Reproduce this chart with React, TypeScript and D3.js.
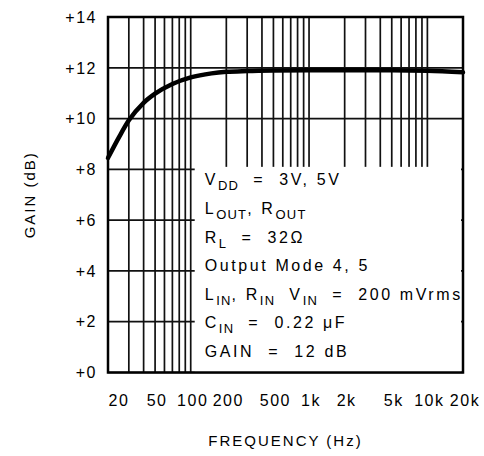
import React from "react";
import * as d3 from "d3";

const freqs = [20, 25, 30, 40, 50, 70, 100, 150, 200, 300, 500, 1000, 5000, 10000, 20000];
const gains = [8.45, 9.3, 9.93, 10.62, 10.98, 11.36, 11.62, 11.78, 11.84, 11.87, 11.89, 11.9, 11.9, 11.88, 11.82];

const yTicks = [0, 2, 4, 6, 8, 10, 12, 14];
const yTickLabels = ["+0", "+2", "+4", "+6", "+8", "+10", "+12", "+14"];
const xLabelFreqs = [20, 50, 100, 200, 500, 1000, 2000, 5000, 10000, 20000];
const xLabels = ["20", "50", "100", "200", "500", "1k", "2k", "5k", "10k", "20k"];
const gridFreqs = [30, 40, 50, 60, 70, 80, 90, 100, 200, 300, 400, 500, 600, 700, 800, 900, 1000, 2000, 3000, 4000, 5000, 6000, 7000, 8000, 9000, 10000];

// annotation lines: segments of [text, isSubscript]
const noteLines: [string, boolean][][] = [
  [["V", false], ["DD", true], ["  =  3V, 5V", false]],
  [["L", false], ["OUT", true], [", R", false], ["OUT", true]],
  [["R", false], ["L", true], ["  =  32Ω", false]],
  [["Output Mode 4, 5", false]],
  [["L", false], ["IN", true], [", R", false], ["IN", true], ["  V", false], ["IN", true], ["  =  200 mVrms", false]],
  [["C", false], ["IN", true], ["  =  0.22 μF", false]],
  [["GAIN  =  12 dB", false]],
];

const W = 484, H = 456;
const left = 108, right = 463, top = 17, bottom = 372.5;
const FONT = "'Liberation Sans', Arial, sans-serif";

export default function App() {
  const x = d3.scaleLog().domain([20, 20000]).range([left, right]);
  const y = d3.scaleLinear().domain([0, 14]).range([bottom, top]);
  const line = d3.line<number>().x((_, i) => x(freqs[i])).y((d) => y(d)).curve(d3.curveMonotoneX);

  const boxX = x(100) + 4;
  const boxY = y(8) - 2.5;
  const textX = boxX + 10;
  const textY0 = y(8) + 16;
  const step = 28.6;
  const ls = 2.6;

  return (
    <svg width={W} height={H} style={{ position: "absolute", left: 0, top: 0, background: "#fff" }}>
      <rect x={0} y={0} width={W} height={H} fill="#fff" />
      {yTicks.map((t) => (
        <line key={"h" + t} x1={left} x2={right} y1={y(t)} y2={y(t)} stroke="#111" strokeWidth={1.7} />
      ))}
      {gridFreqs.map((f) => (
        <line key={"v" + f} x1={x(f)} x2={x(f)} y1={top} y2={bottom} stroke="#111" strokeWidth={1.7} />
      ))}
      <path d={line(gains) || ""} fill="none" stroke="#000" strokeWidth={4.5} strokeLinecap="round" />
      <rect x={boxX} y={boxY} width={right - 2 - boxX} height={bottom - boxY} fill="#fff" />
      <rect x={left} y={top} width={right - left} height={bottom - top} fill="none" stroke="#000" strokeWidth={2.5} />
      {noteLines.map((segs, i) => (
        <text key={"n" + i} x={textX} y={textY0 + i * step} fontFamily={FONT} fontSize={16} letterSpacing={ls} fill="#000" style={{ whiteSpace: "pre" }}>
          {segs.map(([s, sub], j) => (
            <tspan key={j} fontSize={sub ? 13 : 16} dy={sub ? 5 : j > 0 && segs[j - 1][1] ? -5 : 0} letterSpacing={sub ? 1.2 : ls}>
              {s}
            </tspan>
          ))}
        </text>
      ))}
      {yTicks.map((t, i) => (
        <text key={"yl" + t} x={97} y={y(t)} dy="0.36em" textAnchor="end" fontFamily={FONT} fontSize={16} letterSpacing={1.5} fill="#000">
          {yTickLabels[i]}
        </text>
      ))}
      {xLabelFreqs.map((f, i) => (
        <text key={"xl" + f} x={x(f) + (i === 0 ? 11 : 2)} y={406} textAnchor="middle" fontFamily={FONT} fontSize={16} letterSpacing={1.5} fill="#000">
          {xLabels[i]}
        </text>
      ))}
      <text x={(left + right) / 2} y={446} textAnchor="middle" fontFamily={FONT} fontSize={15} letterSpacing={2} fill="#000">
        FREQUENCY (Hz)
      </text>
      <text transform={`translate(35, ${(top + bottom) / 2}) rotate(-90)`} textAnchor="middle" fontFamily={FONT} fontSize={15} letterSpacing={2} fill="#000">
        GAIN (dB)
      </text>
    </svg>
  );
}
